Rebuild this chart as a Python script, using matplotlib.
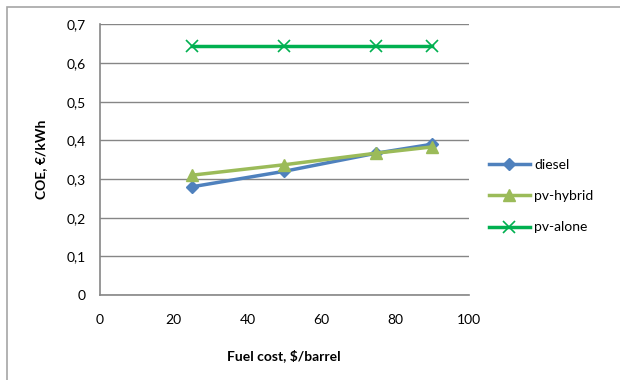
import matplotlib.pyplot as plt
from matplotlib.patches import Rectangle
from matplotlib.ticker import FuncFormatter

# Cost of energy vs. fuel price
fuel_cost = [25, 50, 75, 90]
diesel = [0.28, 0.32, 0.367, 0.39]
pv_hybrid = [0.31, 0.337, 0.367, 0.383]
pv_alone = [0.645, 0.645, 0.645, 0.645]

x_ticks = [0, 20, 40, 60, 80, 100]
y_ticks = [0, 0.1, 0.2, 0.3, 0.4, 0.5, 0.6, 0.7]

plt.rcParams['font.family'] = ['Lato', 'DejaVu Sans']

fig = plt.figure(figsize=(6.2, 3.8), dpi=100)
ax = fig.add_axes([0.161, 0.2237, 0.595, 0.712])

# outer chart frame (only top and left edges visible)
fig.patches.append(Rectangle((7 / 620, -0.1), 1.2, 1 - 7 / 380 + 0.1,
                             transform=fig.transFigure, fill=False,
                             edgecolor='#a6a6a6', linewidth=1.2))

ax.plot(fuel_cost, diesel, color='#4f81bd', linewidth=2.5, marker='D',
        markersize=6, label='diesel', zorder=3)
ax.plot(fuel_cost, pv_hybrid, color='#9bbb59', linewidth=2.5, marker='^',
        markersize=8, label='pv-hybrid', zorder=4)
ax.plot(fuel_cost, pv_alone, color='#00b050', linewidth=2.5, marker='x',
        markersize=8, markeredgewidth=1.2, label='pv-alone', zorder=3)

ax.set_xlim(0, 100)
ax.set_ylim(0, 0.7)
ax.set_xticks(x_ticks)
ax.set_yticks(y_ticks)
ax.yaxis.set_major_formatter(FuncFormatter(
    lambda v, p: '0' if v == 0 else f'{v:.1f}'.replace('.', ',')))

ax.grid(axis='y', color='#868686', linewidth=1)
ax.set_axisbelow(True)
for s in ['top', 'right']:
    ax.spines[s].set_visible(False)
for s in ['left', 'bottom']:
    ax.spines[s].set_color('#868686')
    ax.spines[s].set_linewidth(1.2)
ax.tick_params(length=0, labelsize=10, colors='black', pad=10)
ax.tick_params(axis='x', pad=14)

ax.set_xlabel('Fuel cost, $/barrel', fontsize=10, fontweight='bold', labelpad=16)
ax.set_ylabel('COE, €/kWh', fontsize=10, fontweight='bold', labelpad=14)

ax.legend(loc='center left', bbox_to_anchor=(1.02, 0.366), frameon=False,
          fontsize=10, handlelength=3, labelspacing=1.4, handletextpad=0.3)

plt.savefig('out.png', dpi=100)
